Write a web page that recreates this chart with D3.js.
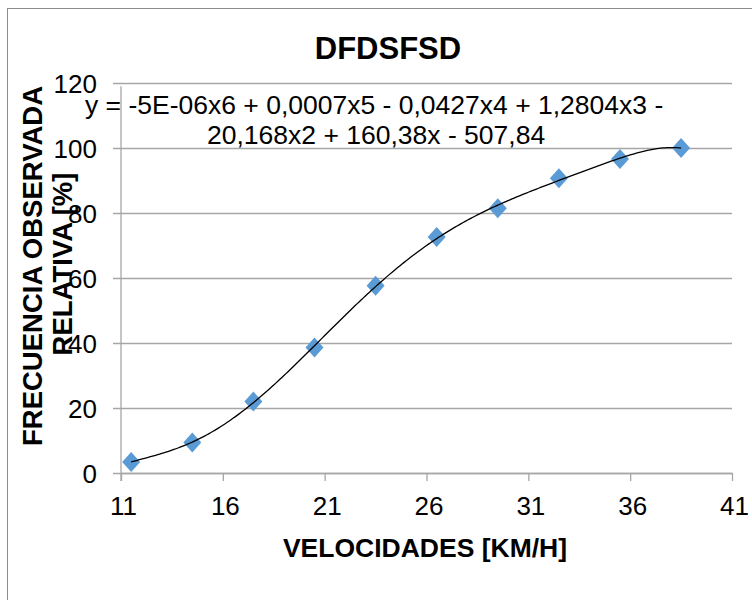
<!DOCTYPE html>
<html>
<head>
<meta charset="utf-8">
<script src="https://cdn.jsdelivr.net/npm/d3@7"></script>
<style>
  body { margin: 0; background: #fff; }
  text { font-family: "Liberation Sans", Arial, sans-serif; fill: #000; }
</style>
</head>
<body>
<div id="chart"></div>
<script>
// data
var velocidades = [11.5, 14.5, 17.5, 20.5, 23.5, 26.5, 29.5, 32.5, 35.5, 38.5];
var frecuencia = [3.4, 9.4, 22.0, 38.6, 57.6, 72.6, 81.5, 90.7, 96.6, 100];
var xTicks = [11, 16, 21, 26, 31, 36, 41];
var yTicks = [0, 20, 40, 60, 80, 100, 120];
var titulo = "DFDSFSD";
var ecuacion = ["y = -5E-06x6 + 0,0007x5 - 0,0427x4 + 1,2804x3 -",
                "20,168x2 + 160,38x - 507,84"];

var svgWidth = 752;
var svgHeight = 600;

var margin = { top: 83, right: 20, bottom: 127, left: 121 };
var width = svgWidth - margin.left - margin.right;
var height = svgHeight - margin.top - margin.bottom;

var svg = d3.select("#chart")
  .append("svg")
  .attr("width", svgWidth)
  .attr("height", svgHeight);

// outer chart border (only top and left are inside the picture)
svg.append("rect")
  .attr("x", 7.5)
  .attr("y", 8.5)
  .attr("width", 900)
  .attr("height", 900)
  .attr("fill", "none")
  .attr("stroke", "#8c8c8c");

var chartGroup = svg.append("g")
  .attr("transform", `translate(${margin.left}, ${margin.top})`);

var xScale = d3.scaleLinear().domain([11, 41]).range([0, width]);
var yScale = d3.scaleLinear().domain([0, 120]).range([height, 0]);

// gridlines + left axis
var leftAxis = d3.axisLeft(yScale)
  .tickValues(yTicks)
  .tickSizeInner(-width)
  .tickSizeOuter(0)
  .tickPadding(0);

var yAxis = chartGroup.append("g").call(leftAxis);
yAxis.select(".domain").remove();
yAxis.selectAll(".tick line")
  .attr("x1", -8)
  .attr("stroke", "#a6a6a6")
  .attr("stroke-width", 1.3);
yAxis.selectAll(".tick text")
  .attr("x", -24)
  .attr("dy", "0.35em")
  .style("font-size", "26px")
  .style("font-family", "'Liberation Sans', Arial, sans-serif")
  .attr("fill", "#000");

// vertical axis line
chartGroup.append("line")
  .attr("x1", 0).attr("x2", 0)
  .attr("y1", yScale(119)).attr("y2", height + 8)
  .attr("stroke", "#a6a6a6")
  .attr("stroke-width", 1.3);

// bottom axis
var bottomAxis = d3.axisBottom(xScale)
  .tickValues(xTicks)
  .tickSizeInner(8)
  .tickSizeOuter(0)
  .tickFormat(d3.format("d"));

var xAxis = chartGroup.append("g")
  .attr("transform", `translate(0, ${height})`)
  .call(bottomAxis);
xAxis.select(".domain")
  .attr("stroke", "#a6a6a6")
  .attr("stroke-width", 1.3);
xAxis.selectAll(".tick line")
  .attr("stroke", "#a6a6a6")
  .attr("stroke-width", 1.3);
xAxis.selectAll(".tick text")
  .attr("x", 2)
  .attr("y", 42)
  .attr("dy", 0)
  .style("font-size", "26px")
  .style("font-family", "'Liberation Sans', Arial, sans-serif")
  .attr("fill", "#000");

// 6th order polynomial trendline, least squares fit of the points
function polyFit(xs, ys, order) {
  var n = order + 1;
  var ts = xs.map(x => (x - 25) / 15);
  var A = [];
  for (var i = 0; i < n; i++) {
    A.push([]);
    for (var j = 0; j <= n; j++) A[i].push(0);
  }
  ts.forEach(function(t, k) {
    for (var i = 0; i < n; i++) {
      for (var j = 0; j < n; j++) A[i][j] += Math.pow(t, i + j);
      A[i][n] += Math.pow(t, i) * ys[k];
    }
  });
  for (var c = 0; c < n; c++) {
    var p = c;
    for (var r = c + 1; r < n; r++) if (Math.abs(A[r][c]) > Math.abs(A[p][c])) p = r;
    var tmp = A[c]; A[c] = A[p]; A[p] = tmp;
    for (var r = 0; r < n; r++) {
      if (r === c) continue;
      var f = A[r][c] / A[c][c];
      for (var j = c; j <= n; j++) A[r][j] -= f * A[c][j];
    }
  }
  var coef = A.map((row, i) => row[n] / row[i]);
  return function(x) {
    var t = (x - 25) / 15;
    return coef.reduce((s, a, i) => s + a * Math.pow(t, i), 0);
  };
}

var trend = polyFit(velocidades, frecuencia, 6);
var trendX = d3.range(velocidades[0], velocidades[velocidades.length - 1] + 0.001, 0.1);

var trendLine = d3.line()
  .x(d => xScale(d))
  .y(d => yScale(trend(d)));

// markers
var diamond = "M0,-10L9,0L0,10L-9,0Z";
chartGroup.selectAll("path.punto")
  .data(velocidades)
  .enter()
  .append("path")
  .classed("punto", true)
  .attr("d", diamond)
  .attr("transform", (d, i) => `translate(${xScale(d)}, ${yScale(frecuencia[i])})`)
  .attr("fill", "#5b9bd5");

chartGroup.append("path")
  .datum(trendX)
  .attr("d", trendLine)
  .attr("fill", "none")
  .attr("stroke", "#000")
  .attr("stroke-width", 1.3);

// chart title
svg.append("text")
  .attr("x", 388)
  .attr("y", 59)
  .attr("text-anchor", "middle")
  .style("font-size", "31px")
  .style("font-weight", "bold")
  .text(titulo);

// trendline equation
svg.append("text")
  .attr("x", 85)
  .attr("y", 114)
  .style("font-size", "26.5px")
  .text(ecuacion[0]);
svg.append("text")
  .attr("x", 207)
  .attr("y", 144)
  .style("font-size", "26.5px")
  .text(ecuacion[1]);

// axis titles
svg.append("text")
  .attr("x", 425)
  .attr("y", 557)
  .attr("text-anchor", "middle")
  .style("font-size", "26.5px")
  .style("font-weight", "bold")
  .text("VELOCIDADES [KM/H]");

svg.append("text")
  .attr("transform", "translate(42, 266) rotate(-90)")
  .attr("text-anchor", "middle")
  .style("font-size", "27.5px")
  .style("font-weight", "bold")
  .text("FRECUENCIA OBSERVADA");
svg.append("text")
  .attr("transform", "translate(72, 264) rotate(-90)")
  .attr("text-anchor", "middle")
  .style("font-size", "27.5px")
  .style("font-weight", "bold")
  .text("RELATIVA [%]");
</script>
</body>
</html>
